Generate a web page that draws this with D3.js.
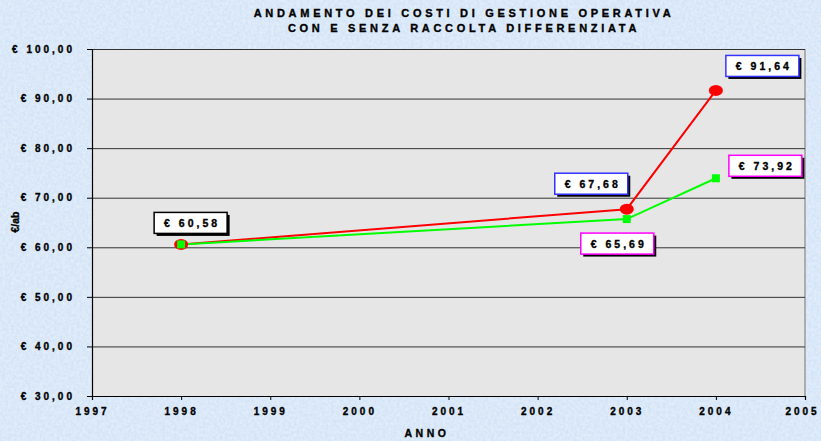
<!DOCTYPE html>
<html><head><meta charset="utf-8">
<script src="https://cdn.jsdelivr.net/npm/d3@7"></script>
<style>
html,body{margin:0;padding:0;background:#d8e7f8;}
svg{display:block;font-family:"Liberation Sans",Arial,sans-serif;font-weight:bold;}
svg text{stroke:#000;stroke-width:0.35px;}
</style></head>
<body>
<script>
const titleLines = ["ANDAMENTO DEI COSTI DI GESTIONE OPERATIVA", "CON E SENZA RACCOLTA DIFFERENZIATA"];
const xTicks = [1997,1998,1999,2000,2001,2002,2003,2004,2005];
const yTicks = [30,40,50,60,70,80,90,100];
const years = [1998, 2003, 2004];
const conRaccolta = [60.58, 67.68, 91.64];   // red
const senzaRaccolta = [60.58, 65.69, 73.92]; // green
const labelsRed = ["€ 60,58", "€ 67,68", "€ 91,64"];
const labelsGreen = ["", "€ 65,69", "€ 73,92"];
const xTitle = "ANNO";
const yTitle = "€/ab";

const W = 821, H = 441;
const svg = d3.select("body").append("svg").attr("width", W).attr("height", H);

// background texture
const defs = svg.append("defs");
const f = defs.append("filter").attr("id","tex").attr("x",0).attr("y",0).attr("width","100%").attr("height","100%");
f.append("feTurbulence").attr("type","fractalNoise").attr("baseFrequency","0.35").attr("numOctaves",2).attr("seed",3).attr("result","n");
f.append("feColorMatrix").attr("in","n").attr("type","matrix")
  .attr("values","0 0 0 0 1  0 0 0 0 1  0 0 0 0 1  0.6 0 0 0 -0.15").attr("result","w");
f.append("feComposite").attr("in","w").attr("in2","SourceGraphic").attr("operator","atop");
svg.append("rect").attr("width",W).attr("height",H).attr("fill","#d3e4f7").attr("filter","url(#tex)");

const x = d3.scaleLinear().domain([1997,2005]).range([92,805]);
const y = d3.scaleLinear().domain([30,100]).range([396,49]);

// plot area
svg.append("rect").attr("x",x(1997)).attr("y",y(100)).attr("width",x(2005)-x(1997)).attr("height",y(30)-y(100)).attr("fill","#e6e6e6");
svg.append("line").attr("x1",x(2005)).attr("x2",x(2005)).attr("y1",y(100)).attr("y2",y(30)).attr("stroke","#9a9a9a").attr("stroke-width",1.5);

// gridlines
svg.append("g").selectAll("line").data(yTicks.filter(d=>d>30)).join("line")
  .attr("x1",x(1997)).attr("x2",x(2005)).attr("y1",d=>y(d)+0.5).attr("y2",d=>y(d)+0.5)
  .attr("stroke","#333").attr("stroke-width",1);

// y axis
const yAxis = svg.append("g").attr("transform",`translate(${x(1997)},0)`)
  .call(d3.axisLeft(y).tickValues(yTicks).tickSize(5).tickPadding(15)
    .tickFormat(d=>"€ " + d3.format(".2f")(d).replace(".",",")));
yAxis.select(".domain").attr("stroke","#000").attr("stroke-width",1.2);
yAxis.selectAll(".tick line").attr("stroke","#000");
yAxis.selectAll("text").attr("font-size",10).attr("font-weight","bold").attr("fill","#000")
  .attr("font-family","Liberation Sans, Arial, sans-serif").style("letter-spacing","3px").attr("dx","3");

// x axis
const xAxis = svg.append("g").attr("transform",`translate(0,${y(30)})`)
  .call(d3.axisBottom(x).tickValues(xTicks).tickSize(4).tickPadding(8).tickFormat(d3.format("d")));
xAxis.select(".domain").attr("stroke","#000").attr("stroke-width",1.2);
xAxis.selectAll(".tick line").attr("stroke","#000");
xAxis.selectAll("text").attr("font-size",10).attr("font-weight","bold").attr("fill","#000")
  .attr("font-family","Liberation Sans, Arial, sans-serif").style("letter-spacing","3px")
  .attr("dx",d=>d===2005?"-3":"0");

// titles
svg.append("g").selectAll("text").data(titleLines).join("text")
  .attr("x",464).attr("y",(d,i)=>17+i*15).attr("text-anchor","middle")
  .attr("font-size",11).style("letter-spacing","3.7px").text(d=>d);
svg.append("text").attr("x",427).attr("y",437).attr("text-anchor","middle")
  .attr("font-size",10.5).style("letter-spacing","3.5px").text(xTitle);
svg.append("text").attr("transform","translate(19,222) rotate(-90)").attr("text-anchor","middle")
  .attr("font-size",10.5).text(yTitle);

// lines
const line = d3.line().x(d=>x(d[0])).y(d=>y(d[1]));
const red = years.map((yr,i)=>[yr,conRaccolta[i]]);
const green = years.map((yr,i)=>[yr,senzaRaccolta[i]]);
svg.append("path").attr("d",line(red)).attr("fill","none").attr("stroke","#ff0000").attr("stroke-width",2);
svg.append("path").attr("d",line(green)).attr("fill","none").attr("stroke","#00ff00").attr("stroke-width",2);
svg.append("g").selectAll("ellipse").data(red).join("ellipse")
  .attr("cx",d=>x(d[0])).attr("cy",d=>y(d[1])).attr("rx",7).attr("ry",5.5).attr("fill","#ff0000");
svg.append("g").selectAll("rect").data(green).join("rect")
  .attr("x",d=>x(d[0])-4).attr("y",d=>y(d[1])-4).attr("width",8).attr("height",8).attr("fill","#00ff00");

// data labels (box positions relative to point)
const boxes = [
  {t:labelsRed[0], px:years[0], py:conRaccolta[0], dx:-27, dy:-32, c:"#000"},
  {t:labelsRed[1], px:years[1], py:conRaccolta[1], dx:-72, dy:-36, c:"#3333ff"},
  {t:labelsRed[2], px:years[2], py:conRaccolta[2], dx:10, dy:-35, c:"#3333ff"},
  {t:labelsGreen[1], px:years[1], py:senzaRaccolta[1], dx:-46, dy:14, c:"#ff00ff"},
  {t:labelsGreen[2], px:years[2], py:senzaRaccolta[2], dx:13, dy:-23, c:"#ff00ff"}
];
const bw = 73, bh = 21;
const lg = svg.append("g");
boxes.forEach(b=>{
  const bx = x(b.px)+b.dx, by = y(b.py)+b.dy;
  lg.append("rect").attr("x",bx+2.5).attr("y",by+2.5).attr("width",bw).attr("height",bh).attr("fill","#000");
  lg.append("rect").attr("x",bx).attr("y",by).attr("width",bw).attr("height",bh).attr("fill","#fff")
    .attr("stroke",b.c).attr("stroke-width",1.5);
  lg.append("text").attr("x",bx+bw/2+1.5).attr("y",by+14.5).attr("text-anchor","middle")
    .attr("font-size",10.5).style("letter-spacing","3px").text(b.t);
});
</script>
</body></html>
